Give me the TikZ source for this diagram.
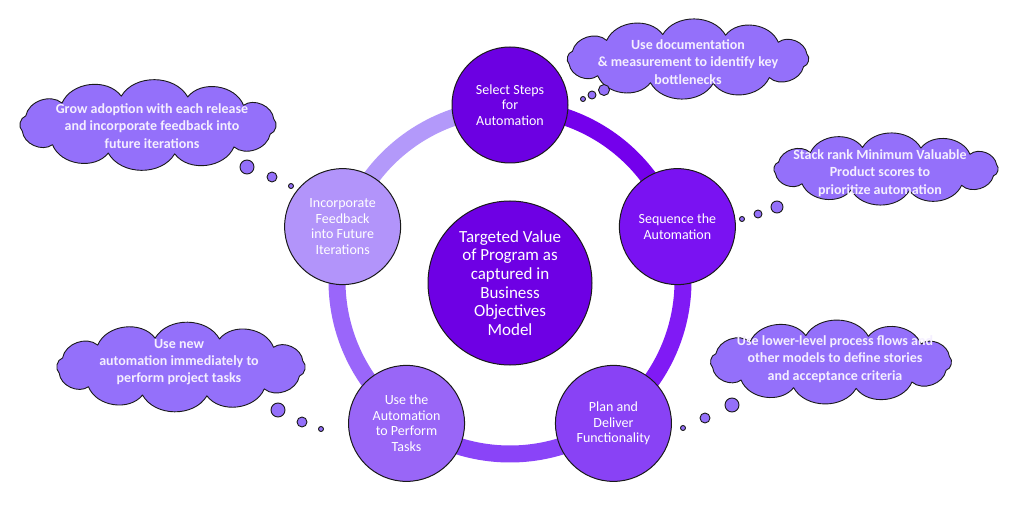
\documentclass[tikz,border=0pt]{standalone}
\usepackage{fontspec}
\setmainfont{Carlito}
\usetikzlibrary{calc}
\definecolor{cSel}{HTML}{6C00E2}
\definecolor{cSeq}{HTML}{7A12F2}
\definecolor{cPlan}{HTML}{8942F5}
\definecolor{cUse}{HTML}{9966F7}
\definecolor{cInc}{HTML}{B294FA}
\definecolor{cCen}{HTML}{6E00E4}
\definecolor{rA}{HTML}{7400EC}
\definecolor{rB}{HTML}{801AF5}
\definecolor{rC}{HTML}{8A44F8}
\definecolor{rD}{HTML}{9A66FA}
\definecolor{rE}{HTML}{B399FA}
\definecolor{cloudfill}{HTML}{9470FA}
\definecolor{cloudtext}{HTML}{F4EEFF}
\definecolor{edge}{HTML}{1A1A1A}
\tikzset{
  stepcirc/.style={circle, draw=edge, line width=1pt, minimum size=116pt, inner sep=0pt,
    text=white, align=center, font=\fontsize{14}{15.5}\selectfont},
  ringseg/.style={line width=17pt},
  cloudline/.style={draw=edge, line width=0.9pt, fill=cloudfill, line join=round},
  cloudtxt/.style={text=cloudtext, align=center, font=\bfseries\fontsize{14}{17.3}\selectfont, inner sep=0pt},
  bubble/.style={draw=edge, line width=0.9pt, fill=cloudfill}
}
% cloud: center x, center y, width, height
\newcommand\puffcloud[4]{%
  \pgfmathsetmacro\cloudA{#3/2-2}%
  \pgfmathsetmacro\cloudB{#4/2-13}%
  \begin{scope}[shift={(#1,#2)}]
  \path[cloudline] (12:\cloudA pt and \cloudB pt)
    \foreach \k in {1,...,12}{ to[bend right=60] ({12+30*\k}:\cloudA pt and \cloudB pt) } -- cycle;
  \end{scope}}
\begin{document}
\begin{tikzpicture}[x=1pt,y=1pt]
\useasboundingbox (0,0) rectangle (1013,507);
\fill[white] (0,0) rectangle (1013,507);
\coordinate (o) at (510,226);
% ring
\draw[ringseg, rA] ($(o)+(90:173)$) arc[start angle=90, end angle=18, radius=173];
\draw[ringseg, rB] ($(o)+(18:173)$) arc[start angle=18, end angle=-54, radius=173];
\draw[ringseg, rC] ($(o)+(-54:173)$) arc[start angle=-54, end angle=-126, radius=173];
\draw[ringseg, rD] ($(o)+(-126:173)$) arc[start angle=-126, end angle=-198, radius=173];
\draw[ringseg, rE] ($(o)+(162:173)$) arc[start angle=162, end angle=90, radius=173];
% circles
\node[stepcirc, fill=cSel] (sel) at ($(o)+(90:176)$) {Select Steps\\for\\Automation};
\node[stepcirc, fill=cSeq] (seq) at ($(o)+(18:176)$) {Sequence the\\Automation};
\node[stepcirc, fill=cPlan] (plan) at ($(o)+(-54:176)$) {Plan and\\Deliver\\Functionality};
\node[stepcirc, fill=cUse] (use) at ($(o)+(-126:176)$) {Use the\\Automation\\to Perform\\Tasks};
\node[stepcirc, fill=cInc] (inc) at ($(o)+(162:176)$) {Incorporate\\Feedback\\into Future\\Iterations};
\node[circle, draw=edge, line width=1pt, fill=cCen, minimum size=164pt, inner sep=0pt,
  text=white, align=center, font=\fontsize{17}{18.7}\selectfont] (ctr) at (510,224)
  {Targeted Value\\of Program as\\captured in\\Business\\Objectives\\Model};
% clouds
\puffcloud{688}{448}{247}{76}
\node[cloudtxt] (t1) at (688,445) {Use documentation\\\& measurement to identify key\\bottlenecks};
\fill[bubble] (604,417) circle (5.5); \fill[bubble] (592,412) circle (4); \fill[bubble] (583,408) circle (2.5);

\puffcloud{886}{338}{230}{70}
\node[cloudtxt] (t2) at (880,334) {Stack rank Minimum Valuable\\Product scores to\\prioritize automation};
\fill[bubble] (777,300) circle (6); \fill[bubble] (758,293) circle (4); \fill[bubble] (742,288) circle (2.5);

\puffcloud{831}{145}{246}{80}
\node[cloudtxt] (t3) at (835,148) {Use lower-level process flows and\\other models to define stories\\and acceptance criteria};
\fill[bubble] (732,102) circle (7); \fill[bubble] (705,89) circle (5); \fill[bubble] (683,79) circle (2.5);

\puffcloud{181}{140}{253}{85}
\node[cloudtxt] (t4) at (179,145) {Use new\\automation immediately to\\perform project tasks};
\fill[bubble] (278,97) circle (7); \fill[bubble] (302,85) circle (5); \fill[bubble] (321,78) circle (2.5);

\puffcloud{148}{382}{261}{85}
\node[cloudtxt] (t5) at (152,381) {Grow adoption with each release\\and incorporate feedback into\\future iterations};
\fill[bubble] (247,340) circle (7); \fill[bubble] (272,330) circle (5); \fill[bubble] (291,321) circle (2.5);
\end{tikzpicture}
\end{document}
